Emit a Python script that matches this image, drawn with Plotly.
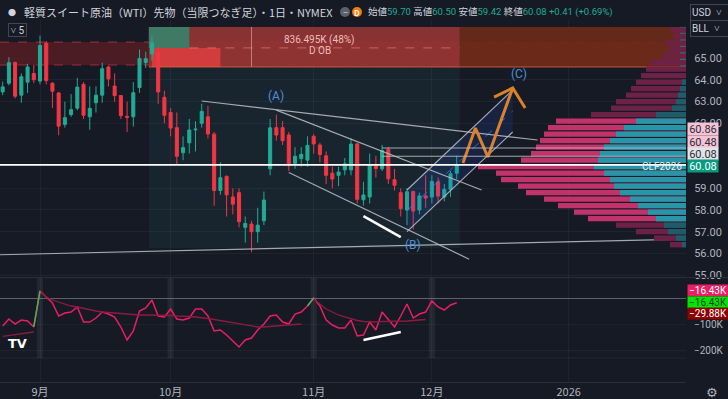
import pandas as pd
import plotly.graph_objects as go

# ---------------- data ----------------
holidays = ["2025-09-01", "2025-11-27", "2025-12-25", "2026-01-01", "2026-01-19", "2026-02-16"]
calendar = [d.strftime("%Y-%m-%d") for d in
            pd.bdate_range("2025-08-21", "2026-02-27", freq="C", holidays=holidays)]
X = {d: i for i, d in enumerate(calendar)}
dates = [d for d in calendar if d <= "2025-12-05"]

opens = [63.20, 63.45, 63.85, 64.80, 63.30, 63.90, 64.30, 63.95, 65.70, 63.85,
         63.40, 61.95, 62.40, 62.70, 63.80, 62.30, 62.95, 63.30, 64.60, 63.72,
         63.28, 62.32, 62.30, 63.65, 64.80, 65.20, 65.30, 63.20, 62.50, 61.80,
         60.64, 61.10, 61.70, 62.00, 62.30, 61.50, 58.90, 59.55, 58.60, 58.80,
         57.20, 57.35, 57.00, 57.50, 59.90, 61.80, 61.80, 61.46, 60.15, 60.37,
         60.30, 61.40, 61.00, 60.50, 59.70, 59.60, 59.85, 59.85, 61.05, 58.47,
         58.60, 60.05, 59.90, 60.80, 59.40, 58.80, 58.00, 58.85, 58.00, 58.65,
         58.60, 59.30, 58.60, 58.95, 59.70]
highs = [63.75, 63.93, 65.05, 64.85, 64.30, 64.75, 64.70, 66.05, 65.80, 63.90,
         63.45, 63.00, 63.35, 64.10, 63.90, 63.70, 63.70, 64.80, 64.65, 64.30,
         63.30, 63.00, 63.90, 65.40, 65.30, 66.00, 65.50, 63.50, 62.70, 62.50,
         61.40, 62.20, 62.10, 62.90, 62.80, 61.60, 60.20, 59.60, 59.00, 59.00,
         57.70, 57.50, 58.10, 58.85, 62.20, 62.40, 62.10, 61.60, 60.90, 60.90,
         61.40, 61.50, 61.10, 60.70, 60.00, 60.00, 60.40, 61.30, 61.10, 59.30,
         60.60, 60.50, 61.00, 60.90, 59.90, 59.00, 59.00, 58.90, 58.80, 59.60,
         59.60, 59.50, 59.20, 59.80, 60.50]
lows = [62.90, 63.30, 63.75, 63.15, 62.95, 63.40, 63.85, 63.80, 63.80, 62.70,
        61.45, 61.80, 62.30, 62.60, 62.20, 61.70, 62.50, 62.95, 63.70, 63.00,
        62.20, 61.60, 61.85, 63.40, 64.55, 64.90, 62.90, 62.00, 61.40, 60.10,
        60.30, 60.60, 60.70, 61.80, 61.30, 58.20, 58.70, 57.70, 57.80, 57.20,
        56.50, 56.05, 56.50, 57.30, 59.60, 61.20, 61.00, 59.80, 59.90, 60.00,
        60.00, 60.60, 60.20, 59.20, 59.00, 59.10, 59.60, 59.60, 58.30, 58.20,
        58.30, 59.50, 59.80, 59.20, 58.90, 57.70, 57.30, 57.10, 57.80, 58.10,
        58.30, 58.30, 58.40, 58.60, 59.42]
closes = [63.52, 63.68, 64.80, 63.25, 64.15, 64.60, 64.01, 65.59, 63.97, 63.48,
          61.87, 62.26, 62.63, 63.67, 62.37, 62.69, 63.30, 64.52, 64.05, 63.28,
          62.35, 62.28, 63.41, 64.99, 64.98, 65.72, 63.45, 62.37, 61.78, 60.48,
          60.88, 61.69, 61.73, 62.55, 61.51, 58.90, 59.49, 58.70, 58.27, 57.46,
          57.38, 57.00, 57.30, 58.46, 61.79, 61.46, 61.20, 60.05, 60.48, 60.57,
          60.98, 61.05, 60.56, 59.60, 59.43, 59.75, 60.13, 61.04, 58.49, 58.69,
          60.09, 59.91, 60.74, 59.44, 59.14, 58.06, 58.84, 57.95, 58.65, 58.55,
          59.32, 58.64, 58.95, 59.67, 60.08]

# cumulative volume delta (K), from 2025-08-22
cvd_dates = dates[1:]
cvd = [-105.9, -78.9, -98.2, -82.8, -86.6, -109.7,
       28.9, 5.8, -17.3, -67.4, -55.8, -52.0, -32.7, -90.5, -90.5, -75.1, -52.0,
       -59.7, -71.2, -109.7, -159.8, -125.1, -48.1, -36.6, -5.8, -67.4, -71.2,
       -40.4, -78.9, -82.8, -75.1, -40.4, -40.4, -67.4, -125.1, -121.3, -140.5,
       -163.6, -186.7, -159.8, -152.1, -121.3, -98.2, -67.4, -63.5, -90.5, -98.2,
       -59.7, -52.0, -28.9,
       1.9, -28.9, -82.8, -102.0, -113.6, -113.6, -82.8, -144.4, -140.5, -90.5,
       -121.3, -52.0, -82.8, -109.7, -67.4, -21.2, -75.1, -59.7, -52.0,
       -9.6, -32.7, -44.3, -25.0, -16.43]
reset_dates = ["2025-09-02", "2025-11-03"]
ma_segments = [
    ("2025-08-22", [-146, -143, -140, -137, -133, -129]),
    ("2025-09-02", [28.9, 5.8, -5.8, -13.5, -21.2, -28.9, -32.7, -38.5, -44.3, -48.1,
                    -52.0, -53.9, -55.8, -57.8, -59.7, -63.5, -63.5, -63.5, -63.5, -63.5,
                    -63.5, -65.5, -67.4, -67.4, -69.3, -71.2, -73.2, -77.0, -80.9, -84.7,
                    -88.6, -92.4, -98.2, -102.0, -105.9, -109.7, -109.7, -107.8, -105.9,
                    -104.0, -102.0, -100.1, -98.2]),
    ("2025-11-03", [-1.9, -21.2, -40.4, -52.0, -63.5, -71.2, -78.9, -84.7, -88.6, -90.5,
                    -90.5, -88.6, -88.6, -88.6, -86.6, -86.6, -84.7, -82.8, -80.9]),
]
cvd_labels = ["−16.43K", "−16.43K", "−29.88K"]
cvd_ticks = [-100, -200]
cvd_ticktext = ["−100K", "−200K"]

# volume profile (hundreds of contracts)
vp_levels = [56.4, 56.7, 57.0, 57.3, 57.6, 57.9, 58.2, 58.5, 58.8, 59.1, 59.4, 59.7,
             60.0, 60.3, 60.6, 60.9, 61.2, 61.5, 61.8, 62.1, 62.4, 62.7, 63.0, 63.3,
             63.6, 63.9, 64.2, 64.5, 64.8, 65.1, 65.4, 65.7, 66.0, 66.3]
vp_total = [16, 32, 50, 70, 98, 112, 128, 142, 160, 168, 185, 190,
            208, 165, 155, 150, 146, 142, 138, 130, 95, 75, 70, 60,
            55, 50, 45, 40, 35, 25, 18, 20, 12, 15]
vp_up = [4, 10, 18, 22, 30, 38, 48, 56, 66, 72, 76, 82,
         92, 88, 86, 82, 76, 70, 62, 50, 30, 14, 10, 8,
         6, 4, 0, 0, 0, 0, 0, 0, 0, 0]
va_low, va_high = 57.45, 62.25
vp_start, vp_end = "2025-09-26", "2025-12-05"
vp_price_range = (56.25, 66.45)

price_ticks = [55, 56, 57, 58, 59, 62, 63, 64, 65]
month_keys = ["2025-09", "2025-10", "2025-11", "2025-12", "2026-01"]
month_labels = ["9月", "10月", "11月", "12月", "2026"]

# order block
ob_zone = (64.69, 65.75)
ob_box = (64.60, 66.45)
ob_split = 65.48
ob_start, ob_teal_end, ob_red_end, ob_vline, ob_brown_start = \
    "2025-09-26", "2025-10-06", "2025-10-13", "2025-10-20", "2025-12-08"
ob_text_date = "2025-11-04"
ob_text = ["836.495K (48%)", "D OB"]
ob_text_price = [65.84, 65.34]

# drawings (date, price)
upper_trend = [("2025-10-08", 63.03), ("2025-12-24", 61.23)]
wedge_top = [("2025-10-24", 62.61), ("2025-12-11", 58.92)]
wedge_bottom = [("2025-10-28", 59.73), ("2025-12-09", 55.73)]
rise_top = [("2025-11-24", 58.92), ("2025-12-18", 63.54)]
rise_bottom = [("2025-11-24", 57.00), ("2025-12-18", 61.60)]
support = [("2025-08-21", 55.93), ("2026-01-30", 56.66)]
ray_levels = [60.86, 60.48]
ray_start = "2025-11-18"
div_price = [("2025-11-13", 57.72), ("2025-11-21", 56.75)]
div_cvd = [("2025-11-13", -160), ("2025-11-21", -129)]
zigzag = [("2025-12-08", 60.17), ("2025-12-10", 61.78), ("2025-12-12", 60.45), ("2025-12-18", 63.63)]
arrow_wings = [("2025-12-15", 63.21), ("2025-12-18", 63.63), ("2025-12-22", 62.71)]
wave_labels = [("(A)", "2025-10-24", 63.26), ("(B)", "2025-11-25", 56.38), ("(C)", "2025-12-19", 64.28)]

title_text = "軽質スイート原油（WTI）先物（当限つなぎ足）・1日・NYMEX"
ohlc_names = ["始値", "高値", "安値", "終値"]
symbol = "CLF2026"

# ---------------- layout constants ----------------
W, H = 728, 399
ML, MR, MT, MB = 0, 42, 20, 17
PW, PH = W - ML - MR, H - MT - MB
BG = "#151a25"
GRID = "rgba(255,255,255,0.045)"
TXT = "#b2b5be"
UP, DN = "#22ab94", "#f23645"


def fx(px):
    return (px - ML) / PW


def fy(py):
    return (H - MB - py) / PH


ANCHOR, ANCHOR_PX, BAR_PX = "2025-09-02", 40, 6.22
x_left = X[ANCHOR] - ANCHOR_PX / BAR_PX
x_right = X[ANCHOR] + (PW - ANCHOR_PX) / BAR_PX
P_REF, P_REF_PX, PX_PER_USD = 65.0, 58.3, 21.67
y_top = P_REF + (P_REF_PX - MT) / PX_PER_USD
y_bot = P_REF - (277 - P_REF_PX) / PX_PER_USD
C_ZERO_PX, K_PER_PX = 298.5, 3.85
c_top = (C_ZERO_PX - 278) * K_PER_PX
c_bot = (C_ZERO_PX - (H - MB)) * K_PER_PX

xs = [X[d] for d in dates]
cx = [X[d] for d in cvd_dates]

fig = go.Figure()

# volume profile
pink = ["#c2336c" if va_low <= p <= va_high else "#6e2146" for p in vp_levels]
teal = ["#2696a8" if va_low <= p <= va_high else "#1d5c68" for p in vp_levels]
fig.add_trace(go.Bar(x=vp_total, y=vp_levels, orientation="h", xaxis="x3", yaxis="y",
                     width=0.25, marker=dict(color=pink, line_width=0), hoverinfo="skip"))
fig.add_trace(go.Bar(x=vp_up, y=vp_levels, orientation="h", xaxis="x3", yaxis="y",
                     width=0.25, marker=dict(color=teal, line_width=0), hoverinfo="skip"))

# candles
fig.add_trace(go.Candlestick(
    x=xs, open=opens, high=highs, low=lows, close=closes, xaxis="x", yaxis="y",
    increasing=dict(line=dict(color=UP, width=1), fillcolor=UP),
    decreasing=dict(line=dict(color=DN, width=1), fillcolor=DN),
    whiskerwidth=0, hoverinfo="skip"))


def line_trace(pts, color, width, yaxis="y", dash=None):
    return go.Scatter(x=[X[d] for d, _ in pts], y=[v for _, v in pts], mode="lines",
                      xaxis="x", yaxis=yaxis, hoverinfo="skip",
                      line=dict(color=color, width=width, dash=dash))


# ascending channel fill
fig.add_trace(go.Scatter(
    x=[X[rise_top[0][0]], X[rise_top[1][0]], X[rise_bottom[1][0]], X[rise_bottom[0][0]], X[rise_top[0][0]]],
    y=[rise_top[0][1], rise_top[1][1], rise_bottom[1][1], rise_bottom[0][1], rise_top[0][1]],
    fill="toself", fillcolor="rgba(41,98,255,0.13)", mode="lines", line=dict(width=0),
    xaxis="x", yaxis="y", hoverinfo="skip"))
mid = [(rise_top[0][0], (rise_top[0][1] + rise_bottom[0][1]) / 2),
       (rise_top[1][0], (rise_top[1][1] + rise_bottom[1][1]) / 2)]
fig.add_trace(line_trace(mid, "rgba(70,120,255,0.75)", 1, dash="dash"))

GREY = "rgba(190,193,200,0.85)"
for pts in [upper_trend, wedge_top, wedge_bottom, rise_top, rise_bottom, support]:
    fig.add_trace(line_trace(pts, GREY, 1.2))
fig.add_trace(line_trace(div_price, "white", 2.5))
fig.add_trace(line_trace(zigzag, "#d9822b", 3))
fig.add_trace(line_trace(arrow_wings, "#d9822b", 3))

# indicator
fig.add_trace(go.Scatter(x=cx, y=cvd, mode="lines", xaxis="x", yaxis="y2",
                         line=dict(color="#e91e63", width=1.5), hoverinfo="skip"))
for d0, vals in ma_segments:
    i0 = cvd_dates.index(d0)
    fig.add_trace(go.Scatter(x=cx[i0:i0 + len(vals)], y=vals, mode="lines", xaxis="x", yaxis="y2",
                             line=dict(color="#8e1b3f", width=1.3), hoverinfo="skip"))
for d in reset_dates:
    i = cvd_dates.index(d)
    fig.add_trace(go.Scatter(x=cx[i - 1:i + 1], y=cvd[i - 1:i + 1], mode="lines", xaxis="x", yaxis="y2",
                             line=dict(color="#4caf50", width=1.5), hoverinfo="skip"))
fig.add_trace(line_trace(div_cvd, "white", 2.5, yaxis="y2"))

# ---------------- shapes ----------------
shapes = []


def rect(x0, x1, y0, y1, fill, layer="between", xref="x", yref="y", line=None):
    shapes.append(dict(type="rect", x0=x0, x1=x1, y0=y0, y1=y1, xref=xref, yref=yref,
                       fillcolor=fill, layer=layer, line=line or dict(width=0)))


def hline(x0, x1, y, color, width=1, dash=None, layer="between", xref="x", yref="y"):
    shapes.append(dict(type="line", x0=x0, x1=x1, y0=y, y1=y, xref=xref, yref=yref, layer=layer,
                       line=dict(color=color, width=width, dash=dash)))


rect(X[vp_start] - 0.5, X[vp_end] + 0.5, vp_price_range[0], vp_price_range[1], "rgba(60,140,140,0.10)")
rect(x_left, x_right, ob_zone[0], ob_zone[1], "rgba(95,30,38,0.75)")
hline(x_left, x_right, ob_zone[0], "rgba(242,54,69,0.6)", dash="dash")
hline(x_left, x_right, ob_zone[1], "rgba(242,54,69,0.6)", dash="dash")
rect(X[ob_start] - 0.5, X[ob_brown_start] - 0.5, ob_box[0], ob_box[1], "rgba(150,52,52,0.9)")
rect(X[ob_brown_start] - 0.5, x_right - 1, ob_box[0], ob_box[1], "rgba(108,42,24,0.92)")
rect(x_right - 1, x_right, ob_box[0], ob_box[1], "rgba(38,150,140,0.7)")
rect(X[ob_start] - 0.5, X[ob_teal_end], ob_split, ob_box[1], "rgba(50,135,110,0.85)")
rect(X[ob_start], X[ob_red_end], ob_box[0], ob_split, "rgba(222,62,62,0.85)")
hline(X[ob_teal_end], X[ob_brown_start] - 0.5, ob_split, "rgba(255,170,170,0.45)", dash="dash")
shapes.append(dict(type="line", x0=X[ob_vline], x1=X[ob_vline], y0=ob_box[0], y1=ob_box[1],
                   xref="x", yref="y", layer="between", line=dict(color="rgba(255,200,200,0.5)", width=1)))
hline(X[ob_start] - 0.5, x_right, ob_box[0], "rgba(235,100,60,0.8)", layer="between")

for lv in ray_levels:
    hline(X[ray_start], x_right, lv, GREY, width=1.2, layer="above")
hline(0, 1, closes[-1], "white", width=1.6, layer="above", xref="paper")

# month separators in indicator pane
for k in month_keys[:4]:
    i = next(X[d] for d in calendar if d.startswith(k))
    rect(i - 0.5, i + 0.5, -229, c_top, "rgba(255,255,255,0.06)", yref="y2")
hline(x_left, x_right, -229, "rgba(255,255,255,0.06)", yref="y2")
hline(x_left, x_right, 0, "rgba(178,181,190,0.45)", yref="y2")
# pane separator
shapes.append(dict(type="line", x0=0, x1=fx(W), y0=fy(277.5), y1=fy(277.5), xref="paper", yref="paper",
                   line=dict(color="#2a2e39", width=1)))
# header pills
shapes.append(dict(type="circle", x0=fx(340), x1=fx(350), y0=fy(17), y1=fy(7), xref="paper", yref="paper",
                   fillcolor="#5d606b", line=dict(width=0)))
shapes.append(dict(type="circle", x0=fx(352), x1=fx(362), y0=fy(17), y1=fy(7), xref="paper", yref="paper",
                   fillcolor="#f57c00", line=dict(width=0)))

# ---------------- annotations ----------------
ann = []
JP = "Noto Sans CJK JP"
MIX = "Roboto, Noto Sans CJK JP"


def txt(x, y, s, size=11, color=TXT, xanchor="left", xref="paper", yref="paper", family=JP, **kw):
    ann.append(dict(x=x, y=y, text=s, xref=xref, yref=yref, xanchor=xanchor, yanchor="middle",
                    showarrow=False, font=dict(family=family, size=size, color=color), **kw))


txt(fx(12), fy(12), "●", size=8, color="#d1d4dc", xanchor="center")
txt(fx(22), fy(12), title_text, size=11, color="#d1d4dc")
txt(fx(345), fy(12), "−", size=9, color="#d1d4dc", xanchor="center")
txt(fx(357), fy(12), "<b>D</b>", size=8, color="white", xanchor="center")
chg = closes[-1] - closes[-2]
pct = chg / closes[-2] * 100
vals = [opens[-1], highs[-1], lows[-1], closes[-1]]
ohlc = " ".join(f"{n}<span style='color:{UP}'>{v:.2f}</span>" for n, v in zip(ohlc_names, vals))
ohlc += f" <span style='color:{UP}'>{chg:+.2f} ({pct:+.2f}%)</span>"
txt(fx(366), fy(12), ohlc, size=9.5, color="#d1d4dc", family=MIX)

for s, py in [("USD  ˅", 12), ("BLL  ˅", 29)]:
    txt(fx(690), fy(py), s, size=10, color="#d1d4dc", bordercolor="#434651", borderwidth=1,
        borderpad=1, width=40, height=13, align="left", family="Roboto")
txt(fx(8), fy(30), "˅ 5", size=10, color="#d1d4dc", bordercolor="#434651", borderwidth=1,
    borderpad=0, width=17, height=12, family="Roboto")

boxes = [(f"{ray_levels[0]:.2f}", 129.3, "#f6c3d5", "#2a2e39"),
         (f"{ray_levels[1]:.2f}", 141.7, "#f6c3d5", "#2a2e39"),
         (f"{closes[-1]:.2f}", 154, "#e3e3e6", "#2a2e39"),
         (f"{closes[-1]:.2f}", 166, "#089981", "white")]
for s, py, bg, fc in boxes:
    txt(fx(687), fy(py), s, size=11, color=fc, bgcolor=bg, width=30, height=12, borderpad=0,
        family="Roboto", align="center")
txt(fx(684), fy(166), symbol, size=10, color="#dff3ef", xanchor="right", family="Roboto")

for s, py, bg, fc in [(cvd_labels[0], 291, "#e91e63", "white"),
                      (cvd_labels[1], 302, "#00e600", "#0b3d0b"),
                      (cvd_labels[2], 313, "#8b0000", "white")]:
    txt(fx(687), fy(py), s, size=10, color=fc, bgcolor=bg, width=40, height=11, borderpad=0,
        family="Roboto", align="center")

for s, p in zip(ob_text, ob_text_price):
    txt(X[ob_text_date], p, s, size=10, color="rgba(255,205,205,0.9)", xanchor="center",
        xref="x", yref="y", family="Roboto")
for s, d, p in wave_labels:
    txt(X[d], p, s, size=12, color="#4e8fd8", xanchor="center", xref="x", yref="y", family="Roboto")

txt(fx(17), fy(343), "<b>TV</b>", size=13, color="white", xanchor="center", family="DejaVu Sans")
txt(fx(712), fy(392), "⚙", size=13, color=TXT, xanchor="center", family="DejaVu Sans")

tickpos = [next(X[d] for d in calendar if d.startswith(k)) for k in month_keys]

fig.update_layout(
    width=W, height=H, margin=dict(l=ML, r=MR, t=MT, b=MB),
    paper_bgcolor=BG, plot_bgcolor=BG, showlegend=False, barmode="overlay",
    shapes=shapes, annotations=ann, hovermode=False,
    xaxis=dict(domain=[0, 1], range=[x_left, x_right], anchor="y2", tickvals=tickpos,
               ticktext=month_labels, showgrid=True, gridcolor=GRID, zeroline=False,
               showline=True, linecolor="#2a2e39", ticks="", rangeslider=dict(visible=False),
               tickfont=dict(family=JP, size=11, color=TXT)),
    xaxis3=dict(overlaying="x", anchor="y", range=[PW, 0], visible=False),
    yaxis=dict(domain=[fy(277), 1], range=[y_bot, y_top], side="right", anchor="x",
               tickvals=price_ticks, ticktext=[f"{v:.2f}" for v in price_ticks],
               showgrid=True, gridcolor=GRID, zeroline=False, ticks="outside", ticklen=5,
               tickcolor=BG, tickfont=dict(family="Roboto", size=11, color=TXT)),
    yaxis2=dict(domain=[0, fy(278)], range=[c_bot, c_top], side="right", anchor="x",
                tickvals=cvd_ticks, ticktext=cvd_ticktext, showgrid=True, gridcolor=GRID,
                zeroline=False, ticks="outside", ticklen=5, tickcolor=BG,
                tickfont=dict(family="Roboto", size=10, color=TXT)),
)

fig.write_html("out.html", config={"displayModeBar": False},
               post_script="document.body.style.margin='0';document.body.style.background='" + BG + "';")
